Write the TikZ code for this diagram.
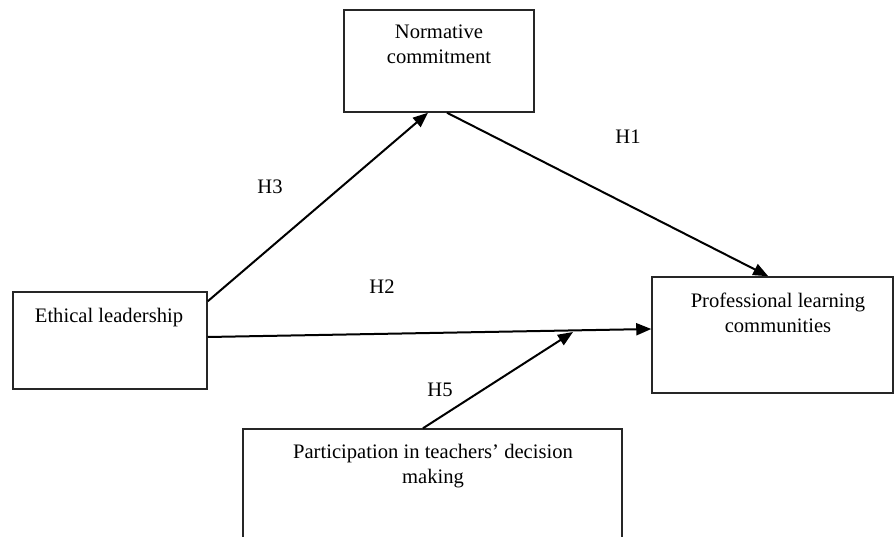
\documentclass[tikz,border=0pt]{standalone}
\usepackage{fontspec}
\setmainfont{Liberation Serif}
\usetikzlibrary{arrows.meta,calc}
\tikzset{
  box/.style={draw=black!85, line width=1.5pt, rectangle, inner sep=0pt},
  boxtext/.style={anchor=north, inner sep=0pt, align=center, font=\fontsize{20.6}{25}\selectfont},
  hyp/.style={inner sep=0pt, font=\fontsize{20.6}{25}\selectfont},
  link/.style={line width=2pt, -{Triangle[length=15pt,width=12pt]}}
}
\begin{document}
\begin{tikzpicture}[x=1pt,y=-1pt]
\useasboundingbox (0,0) rectangle (894,537);
\clip (0,0) rectangle (894,537);
\fill[white] (0,0) rectangle (894,537);
% boxes
\node[box, minimum width=194pt, minimum height=97pt] (el) at (110,340.5) {};
\node[box, minimum width=190pt, minimum height=102pt] (nc) at (439,61) {};
\node[box, minimum width=241pt, minimum height=116pt] (plc) at (772.5,335) {};
\node[box, minimum width=379pt, minimum height=140pt] (pt) at (432.5,499) {};
% texts
\node[boxtext] (elt) at (109,308) {Ethical leadership};
\node[boxtext] (nct) at (439,25) {Normative\\commitment};
\node[boxtext] (plct) at (778,293) {Professional learning\\communities};
\node[boxtext] (ptt) at (433,444) {Participation in teachers’ decision\\making};
% connectors
\coordinate (m5) at (573,332);
\draw[link] ($(el.north east)+(0,10)$) -- ($(nc.south)+(-11,0)$);
\draw[link] ($(nc.south)+(8,0)$) -- ($(plc.north west)+(117,0)$);
\draw[link] ($(el.east)+(0,-3.5)$) -- ($(plc.west)+(0,-6)$);
\draw[link] ($(pt.north)+(-9.5,0)$) -- (m5);
% hypothesis labels
\node[hyp] (h3) at (270,187) {H3};
\node[hyp] (h1) at (628,137) {H1};
\node[hyp] (h2) at (382,287) {H2};
\node[hyp] (h5) at (440,390) {H5};
\end{tikzpicture}
\end{document}
